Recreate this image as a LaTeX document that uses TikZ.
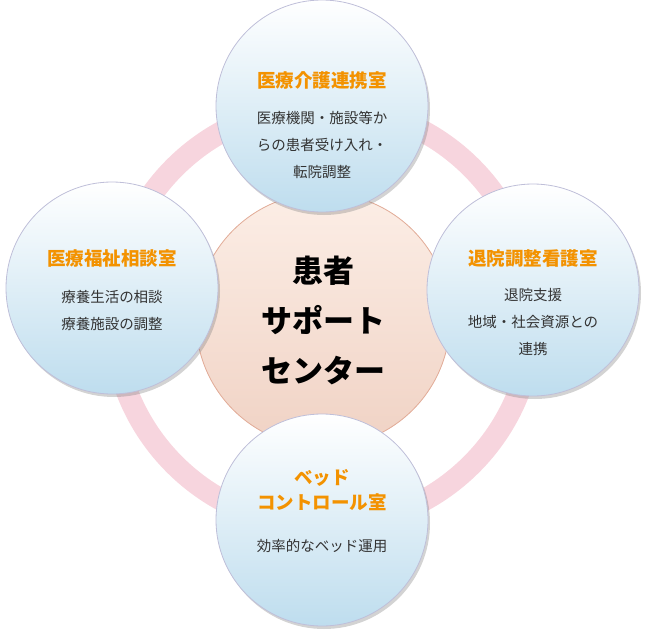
\documentclass[tikz,border=0pt]{standalone}
\usepackage{fontspec}
\setmainfont{Noto Sans CJK JP}
\usetikzlibrary{shadows}
\definecolor{ringpink}{HTML}{F7D5DE}
\definecolor{ttl}{HTML}{F39200}
\definecolor{txt}{HTML}{333333}
\tikzset{
  sub/.style={circle,minimum size=212pt,inner sep=0pt,draw=blue!25!gray!40,line width=0.8pt,
    top color=white,bottom color={rgb,255:red,190;green,221;blue,238},
    drop shadow={shadow xshift=2pt,shadow yshift=-3pt,opacity=0.35}},
  ttlf/.style={align=center,font=\fontsize{18.5}{25}\bfseries\selectfont\color{ttl}},
  bodyf/.style={align=center,font=\fontsize{14.5}{27}\selectfont\color{txt}}
}
\begin{document}
\begin{tikzpicture}[x=1pt,y=-1pt]
\useasboundingbox (0,0) rectangle (646,634);
\draw[ringpink,line width=22pt] (323,316) circle (210);
\node[circle,minimum size=254pt,inner sep=0pt,draw={rgb,255:red,225;green,170;blue,150},line width=0.8pt,
  top color={rgb,255:red,252;green,238;blue,230},bottom color={rgb,255:red,240;green,210;blue,196},
  align=center,font=\fontsize{31}{50}\bfseries\selectfont] (c) at (323,320) {患者\\サポート\\センター};
\node[sub] (t) at (322,106) {};
\node[sub] (l) at (112,288) {};
\node[sub] (r) at (533,290) {};
\node[sub] (b) at (322,520) {};
\node[ttlf] (tt) at (322,80) {医療介護連携室};
\node[bodyf] (tb) at (322,145) {医療機関・施設等か\\らの患者受け入れ・\\転院調整};
\node[ttlf] (lt) at (112,258) {医療福祉相談室};
\node[bodyf] (lb) at (112,311) {療養生活の相談\\療養施設の調整};
\node[ttlf] (rt) at (533,258) {退院調整看護室};
\node[bodyf] (rb) at (533,322) {退院支援\\地域・社会資源との\\連携};
\node[ttlf] (bt) at (322,490) {ベッド\\コントロール室};
\node[bodyf] (bb) at (322,546) {効率的なベッド運用};
\end{tikzpicture}
\end{document}
